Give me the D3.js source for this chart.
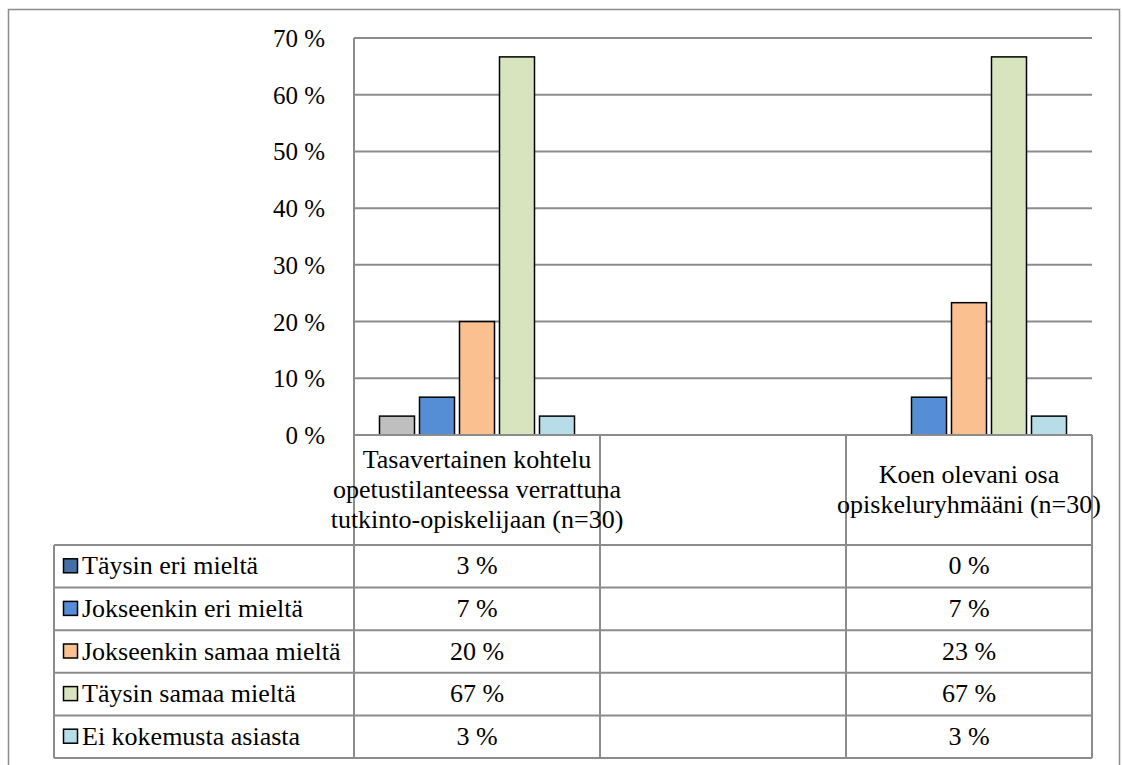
<!DOCTYPE html>
<html>
<head>
<meta charset="utf-8">
<script src="https://cdn.jsdelivr.net/npm/d3@7"></script>
<style>
  html, body { margin: 0; padding: 0; background: #fff; }
  svg { display: block; }
</style>
</head>
<body>
<svg id="chart" width="1122" height="765"></svg>
<script>
// ---- data ----
const categories = ["cat1", "gap", "cat2"];
const categoryLines = [
  ["Tasavertainen kohtelu", "opetustilanteessa verrattuna", "tutkinto-opiskelijaan (n=30)"],
  [],
  ["Koen olevani osa", "opiskeluryhmääni (n=30)"]
];
const series = ["Täysin eri mieltä", "Jokseenkin eri mieltä", "Jokseenkin samaa mieltä", "Täysin samaa mieltä", "Ei kokemusta asiasta"];
const valTaysinEri   = [3.33, null, 0];
const valJokEri      = [6.67, null, 6.67];
const valJokSamaa    = [20.0, null, 23.33];
const valTaysinSamaa = [66.67, null, 66.67];
const valEiKokemusta = [3.33, null, 3.33];
const seriesValues = [valTaysinEri, valJokEri, valJokSamaa, valTaysinSamaa, valEiKokemusta];
const barColors = ["#bfbfbf", "#558ed5", "#fac090", "#d7e4bd", "#b7dee8"];
const legendColors = ["#4470a6", "#558ed5", "#fac090", "#d7e4bd", "#b7dee8"];
const yTicks = [0, 10, 20, 30, 40, 50, 60, 70];

// ---- layout ----
const FONT = "'Liberation Serif', 'Times New Roman', 'DejaVu Serif', serif";
const svg = d3.select("#chart").attr("font-family", FONT);
const plotLeft = 354, plotRight = 1092, plotTop = 38, plotBottom = 435;
const tableLeft = 54, headerBottom = 545, tableBottom = 758;
const gridColor = "#8c8c8c";
const fontSize = 26;
const axisFontSize = 25;

const x = d3.scaleBand().domain(categories).range([plotLeft, plotRight]).padding(0);
const y = d3.scaleLinear().domain([0, 70]).range([plotBottom, plotTop]);
const inner = d3.scaleBand().domain(series).range([-97.5, 97.5]).paddingInner(0.125).paddingOuter(0);
const rowY = d3.scaleBand().domain(series).range([headerBottom, tableBottom]);

function txt(sel) { return sel.attr("font-family", FONT).attr("fill", "#000"); }

// outer border
svg.append("rect").attr("x", 8.5).attr("y", 9.5).attr("width", 1111).attr("height", 800)
  .attr("fill", "none").attr("stroke", gridColor).attr("stroke-width", 1.5);

// gridlines
svg.append("g").selectAll("line").data(yTicks.filter(d => d > 0)).join("line")
  .attr("x1", plotLeft).attr("x2", plotRight)
  .attr("y1", d => y(d)).attr("y2", d => y(d))
  .attr("stroke", gridColor).attr("stroke-width", 2);

// y axis line
svg.append("line").attr("x1", plotLeft).attr("x2", plotLeft).attr("y1", plotTop).attr("y2", plotBottom)
  .attr("stroke", gridColor).attr("stroke-width", 2);

// y tick labels
txt(svg.append("g").selectAll("text").data(yTicks).join("text"))
  .attr("x", 325).attr("y", d => y(d) + 9)
  .attr("text-anchor", "end").attr("font-size", axisFontSize)
  .text(d => d + " %");

// bars
series.forEach((s, i) => {
  const data = categories.map((c, j) => ({ c, v: seriesValues[i][j] })).filter(d => d.v !== null && d.v > 0);
  svg.append("g").selectAll("rect").data(data).join("rect")
    .attr("x", d => x(d.c) + x.bandwidth() / 2 + inner(s))
    .attr("y", d => y(d.v))
    .attr("width", inner.bandwidth())
    .attr("height", d => y(0) - y(d.v))
    .attr("fill", barColors[i]).attr("stroke", "#000").attr("stroke-width", 1.5);
});

// table lines
const tg = svg.append("g").attr("stroke", gridColor).attr("stroke-width", 2);
tg.append("line").attr("x1", plotLeft).attr("x2", plotRight).attr("y1", plotBottom).attr("y2", plotBottom);
const rowEdges = [headerBottom].concat(series.map(s => rowY(s) + rowY.bandwidth()));
tg.selectAll("line.row").data(rowEdges).join("line").attr("class", "row")
  .attr("x1", tableLeft).attr("x2", plotRight).attr("y1", d => d).attr("y2", d => d);
const colEdges = [plotLeft].concat(categories.map(c => x(c) + x.bandwidth()));
tg.selectAll("line.col").data(colEdges).join("line").attr("class", "col")
  .attr("x1", d => d).attr("x2", d => d).attr("y1", plotBottom).attr("y2", tableBottom);
tg.append("line").attr("x1", tableLeft).attr("x2", tableLeft).attr("y1", headerBottom).attr("y2", tableBottom);

// category labels (header row)
categories.forEach((c, j) => {
  const lines = categoryLines[j];
  if (!lines.length) return;
  const lh = 30;
  const cy = (plotBottom + headerBottom) / 2;
  const first = cy - (lines.length - 1) * lh / 2 + 8;
  txt(svg.append("text")).attr("text-anchor", "middle").attr("font-size", fontSize)
    .selectAll("tspan").data(lines).join("tspan")
    .attr("x", x(c) + x.bandwidth() / 2)
    .attr("y", (d, k) => first + k * lh)
    .text(d => d);
});

// legend column + values
series.forEach((s, i) => {
  const cy = rowY(s) + rowY.bandwidth() / 2;
  svg.append("rect").attr("x", 63.5).attr("y", cy - 7.5).attr("width", 14).attr("height", 14)
    .attr("fill", legendColors[i]).attr("stroke", "#000").attr("stroke-width", 1.5);
  txt(svg.append("text")).attr("x", 82).attr("y", cy + 8).attr("font-size", fontSize).text(s);
  categories.forEach((c, j) => {
    const v = seriesValues[i][j];
    if (v === null) return;
    txt(svg.append("text")).attr("x", x(c) + x.bandwidth() / 2).attr("y", cy + 8)
      .attr("text-anchor", "middle").attr("font-size", fontSize)
      .text(Math.round(v) + " %");
  });
});
</script>
</body>
</html>
